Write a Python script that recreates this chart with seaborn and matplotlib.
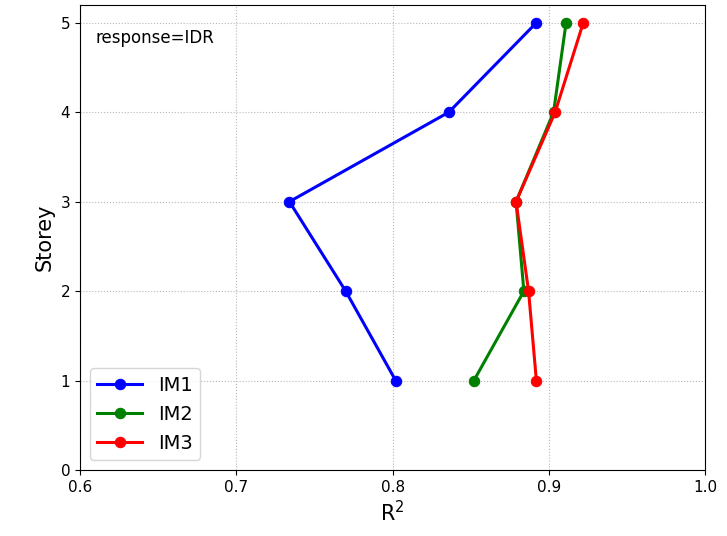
import matplotlib
matplotlib.use("Agg")
import matplotlib.pyplot as plt
import seaborn as sns
import pandas as pd

storeys = [1, 2, 3, 4, 5]
im1 = [0.802, 0.770, 0.734, 0.836, 0.892]
im2 = [0.852, 0.884, 0.879, 0.903, 0.911]
im3 = [0.892, 0.887, 0.879, 0.904, 0.922]
labels = ["IM1", "IM2", "IM3"]
colors = ["blue", "green", "red"]

rows = []
for lab, vals in zip(labels, [im1, im2, im3]):
    for s, v in zip(storeys, vals):
        rows.append({"R2": v, "Storey": s, "IM": lab})
df = pd.DataFrame(rows)

fig = plt.figure(figsize=(7.27, 5.36), dpi=100)
ax = fig.add_axes([0.110, 0.123, 0.860, 0.868])
for lab, col in zip(labels, colors):
    sub = df[df["IM"] == lab]
    sns.lineplot(data=sub, x="R2", y="Storey", sort=False, estimator=None,
                 color=col, marker="o", markersize=7.5, markeredgecolor=col,
                 linewidth=2.2, label=lab, ax=ax)

ax.set_xlim(0.6, 1.0)
ax.set_ylim(0, 5.2)
ax.set_xticks([0.6, 0.7, 0.8, 0.9, 1.0])
ax.set_xticklabels(["0.6", "0.7", "0.8", "0.9", "1.0"])
ax.set_yticks([0, 1, 2, 3, 4, 5])
ax.tick_params(labelsize=11)
ax.grid(True, linestyle=":", color="#b0b0b0", alpha=0.9)
ax.set_xlabel("R$^2$", fontsize=15)
ax.set_ylabel("Storey", fontsize=15)
ax.text(0.61, 4.83, "response=IDR", fontsize=12, va="center")
ax.legend(loc="lower left", fontsize=14, handlelength=2.3)
fig.savefig("out.png", dpi=100)
